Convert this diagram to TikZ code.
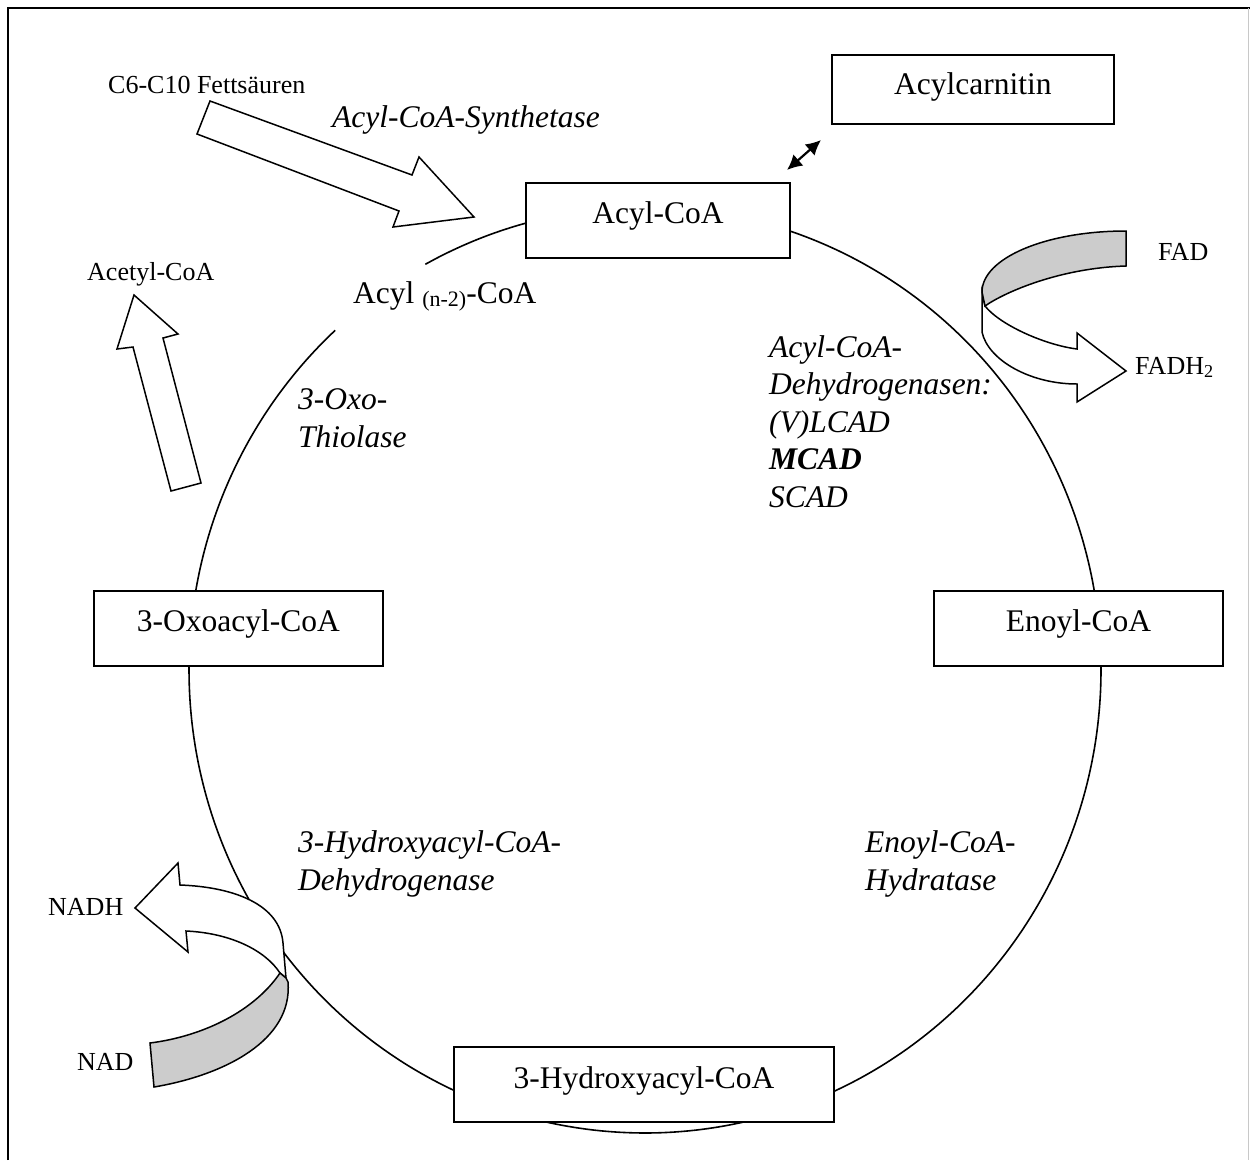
\documentclass[tikz,border=0pt]{standalone}
\usepackage{fontspec}
\setmainfont{Liberation Serif}
\usetikzlibrary{arrows.meta}
\definecolor{ribbongray}{RGB}{204, 204, 204}
\definecolor{framegray}{RGB}{200, 200, 200}
\newcommand{\bigsize}{\fontsize{31.5}{37.5}\selectfont}
\newcommand{\smallsize}{\fontsize{26}{30}\selectfont}

\begin{document}
\begin{tikzpicture}[
    x=1pt, y=-1pt,
    box/.style={draw, fill=white, line width=1.8pt, font=\bigsize, inner sep=0pt, text height=40pt, text depth=35pt, anchor=base west},
    enz/.style={font=\bigsize\itshape, align=left, anchor=base west, inner sep=0pt},
    lbl/.style={font=\smallsize, anchor=base west, inner sep=0pt},
    ribbon/.style={draw, fill=white, line width=1.5pt, line join=miter},
    cycleline/.style={line width=1.6pt}
]
  \useasboundingbox (0,0) rectangle (1250,1160);

  % Rahmen
  \draw[line width=1.8pt] (8,1160) -- (8,8) -- (1250,8);
  \draw[framegray, line width=1pt] (1248,8) -- (1248,1160);

  % Zyklus
  \draw[cycleline] plot[domain=241.2:587.2, samples=200, smooth] ({645+456*cos(\x)},{670+463*sin(\x)});

  % Metabolite
  \node[box, minimum width=264pt] (acyl) at (525,223) {Acyl-CoA};
  \node[box, minimum width=282pt, text height=39pt, text depth=30pt] (carn) at (831,94) {Acylcarnitin};
  \node[box, minimum width=289pt] (oxo) at (93,631) {3-Oxoacyl-CoA};
  \node[box, minimum width=289pt] (enoyl) at (933,631) {Enoyl-CoA};
  \node[box, minimum width=380pt, text height=41pt, text depth=34pt] (hydroxy) at (453,1088) {3-Hydroxyacyl-CoA};
  \node[font=\bigsize, anchor=base west, inner sep=0pt] (acyln) at (353,303) {Acyl \raisebox{-3pt}{\fontsize{22}{26}\selectfont(n-2)}-CoA};

  % Blockpfeile
  \draw[ribbon] (210,101) -- (412,175) -- (419,157) -- (474,217) -- (393,227) -- (399,211) -- (197,134) -- cycle;
  \draw[ribbon] (134,295) -- (178,334) -- (163,338) -- (201,483) -- (171,491) -- (133,347) -- (117,349) -- cycle;

  % FAD -> FADH2
  \draw[ribbon] (982,292) -- (982,332) .. controls (988,360) and (1030,384) .. (1077,384)
    -- (1077,402) -- (1126,371) -- (1077,333) -- (1077,349)
    .. controls (1045,345) and (1000,325) .. (985,306) -- cycle;
  \draw[ribbon, fill=ribbongray] (1126,231) .. controls (1046,231) and (982,258) .. (982,292)
    -- (985,306) .. controls (1005,292) and (1060,268) .. (1126,266) -- cycle;

  % NAD -> NADH
  \draw[ribbon] (280,973) .. controls (265,950) and (230,933) .. (186,931)
    -- (188,952) -- (135,908) -- (178,863) -- (180,885)
    .. controls (235,887) and (280,905) .. (283,943) -- (286,978) -- cycle;
  \draw[ribbon, fill=ribbongray] (150,1043) .. controls (205,1036) and (255,1010) .. (280,973)
    -- (286,978) -- (288,982) .. controls (293,1040) and (225,1075) .. (154,1087) -- cycle;

  % Acyl-CoA <-> Acylcarnitin
  \coordinate (dblA) at (787,170);
  \coordinate (dblB) at (821,140);
  \draw[{Latex[length=15pt,width=15pt]}-{Latex[length=15pt,width=15pt]}, line width=2.2pt] (dblA) -- (dblB);

  % Substrate und Cofaktoren
  \node[lbl] (fett) at (108,93) {C6-C10 Fettsäuren};
  \node[lbl] (acetyl) at (87,280) {Acetyl-CoA};
  \node[lbl] (fad) at (1158,260) {FAD};
  \node[lbl] (fadh) at (1135,374) {FADH\textsubscript{2}};
  \node[lbl] (nadh) at (48,915) {NADH};
  \node[lbl] (nad) at (77,1070) {NAD};

  % Enzyme (Position = Grundlinie der letzten Zeile)
  \node[enz] (synth) at (332,127) {Acyl-CoA-Synthetase};
  \node[enz] (thiol) at (298,447) {3-Oxo-\\Thiolase};
  \node[enz] (acad) at (769,507) {Acyl-CoA-\\Dehydrogenasen:\\(V)LCAD\\\textbf{MCAD}\\SCAD};
  \node[enz] (hydrat) at (865,890) {Enoyl-CoA-\\Hydratase};
  \node[enz] (hadh) at (298,890) {3-Hydroxyacyl-CoA-\\Dehydrogenase};
\end{tikzpicture}
\end{document}
